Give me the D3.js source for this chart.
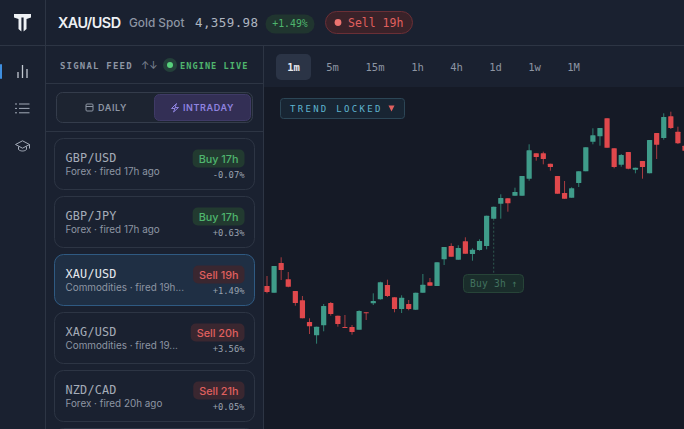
<!DOCTYPE html>
<html>
<head>
<meta charset="utf-8">
<title>XAU/USD</title>
<script src="https://d3js.org/d3.v7.min.js"></script>
<style>
html,body{margin:0;padding:0;background:#1a2130;overflow:hidden;}
svg{display:block;}
.sans{font-family:Inter,"Noto Sans",sans-serif;}
.mono{font-family:"DejaVu Sans Mono",monospace;}
</style>
</head>
<body>
<script>
var opens  = [4214,4207.3,4237,4220.7,4209,4199.7,4178,4164.7,4174.7,4197,4184.3,4173,4173,4170.3,4187.7,4196.7,4200.7,4215,4202.7,4191,4196,4190.3,4207.3,4217.7,4214,4240.7,4254,4240.3,4258.7,4246,4250,4254,4281.3,4296.3,4301.7,4304.3,4304.3,4321.3,4346.7,4346.7,4336.3,4324,4307,4302.3,4317,4328.7,4358.3,4363.7,4381.7,4351.7,4335.3,4348,4330.3,4339,4326.7,4367,4362,4383.7,4368.3,4354.3];
var highs  = [4224,4234,4242.7,4228,4209,4204,4181.7,4173.3,4196,4198,4184.3,4185,4175,4189.7,4187.7,4206.7,4218.3,4220.3,4202.7,4204.7,4200,4207.3,4226,4222,4237.7,4253,4256.7,4254.7,4262.7,4251.7,4260.7,4284.3,4293.3,4305.7,4301.7,4312.3,4324,4355.7,4346.7,4348.3,4336.3,4324,4319,4312.7,4328.7,4352.7,4371.7,4372,4381.7,4351.7,4346,4348,4332.3,4339,4360,4367,4386.7,4388.3,4373.3,4354.3];
var lows   = [4206.7,4207.3,4220,4212.7,4194.3,4181.7,4166,4156.3,4168.7,4184.3,4173.3,4172.3,4165.3,4170.3,4180,4195,4200.3,4203,4187.7,4187,4189.7,4190,4207.3,4214.3,4214,4235,4243.3,4240.3,4246.3,4239.3,4249.3,4250.7,4281.3,4281.3,4288.3,4304.3,4304.3,4319.3,4339.3,4335.7,4329.3,4306.3,4301.3,4302.3,4313,4328.7,4355.7,4354.3,4352.3,4331.7,4333.3,4330.7,4326.7,4321.3,4326.7,4341,4360.3,4371,4356,4349.3];
var closes = [4208,4234,4230,4213.3,4197,4181.7,4173.7,4173.3,4194,4186,4176,4172.3,4168,4189,4186.7,4199,4217.7,4204,4191,4202.3,4191,4207.3,4215.3,4214.3,4237.7,4253,4243.3,4252,4246.3,4250.3,4259,4284.3,4293.3,4302,4296.7,4308,4324,4349.7,4343,4341,4333,4306.3,4301.3,4311.7,4328.7,4352.7,4364.7,4372,4352.3,4333,4345,4331.3,4332.3,4333,4360,4355.3,4383,4372,4356.7,4349.3];

var timeframes = ['1m','5m','15m','1h','4h','1d','1w','1M'];
var pairs   = ['GBP/USD','GBP/JPY','XAU/USD','XAG/USD','NZD/CAD'];
var details = ['Forex · fired 17h ago','Forex · fired 17h ago','Commodities · fired 19h...','Commodities · fired 19...','Forex · fired 20h ago'];
var signals = ['Buy 17h','Buy 17h','Sell 19h','Sell 20h','Sell 21h'];
var changes = ['-0.07%','+0.63%','+1.49%','+3.56%','+0.05%'];

var W = 684, H = 429;
var svg = d3.select('body').append('svg').attr('width', W).attr('height', H);

function rect(g, x, y, w, h, r, fill, stroke){
	return g.append('rect').attr('x',x).attr('y',y).attr('width',w).attr('height',h).attr('rx',r)
		.attr('fill',fill).attr('stroke',stroke || 'none');
}
function label(g, x, y, s, size, fill, cls, anchor, weight, spacing){
	return g.append('text').attr('x',x).attr('y',y).text(s).attr('class',cls)
		.attr('font-size',size).attr('fill',fill).attr('text-anchor',anchor || 'start')
		.attr('font-weight',weight || 400).attr('letter-spacing',spacing || 0);
}

// panels
rect(svg,0,0,W,H,0,'#1a2130');
rect(svg,264,87,W-264,H-87,0,'#151a26');
var lineColor = '#2d3544';
[[45.5,0,45.5,H],[263.5,46,263.5,H],[0,45.5,W,45.5],[46,83.5,263,83.5],[46,131.5,263,131.5]].forEach(function(l){
	svg.append('line').attr('x1',l[0]).attr('y1',l[1]).attr('x2',l[2]).attr('y2',l[3]).attr('stroke',lineColor);
});

// logo
svg.append('path').attr('d','M14 14H31V17.5L26.5 19V29L23.6 31.5V17.5H21.4V31.5L18.5 29V19L14 17.5Z').attr('fill','#eef1f5');

// rail icons
rect(svg,0,64,2,15,1,'#3f8fe0');
var rail = svg.append('g').attr('fill','none').attr('stroke','#a3abb8').attr('stroke-width',1);
[[18,78,72],[22.5,78,65],[27,78,69]].forEach(function(b){
	rail.append('line').attr('x1',b[0]).attr('y1',b[1]).attr('x2',b[0]).attr('y2',b[2]).attr('stroke-width',1.3).attr('stroke','#c2c8d1');
});
[104,108.4,112.8].forEach(function(yy){
	rail.append('line').attr('x1',19).attr('y1',yy).attr('x2',29.5).attr('y2',yy);
	rail.append('line').attr('x1',15).attr('y1',yy).attr('x2',17).attr('y2',yy);
});
rail.append('path').attr('d','M15.5 144.5L22.5 140.8L29.5 144.5L22.5 148.2ZM18.5 146.5V149.5C20.5 151.5 24.5 151.5 26.5 149.5V146.5M29.5 144.5V148.5');

// header
label(svg,58,28,'XAU/USD',14.4,'#eef1f5','sans','start',600,-0.5);
label(svg,129,27,'Gold Spot',11.8,'#8d95a3','sans','start',500);
label(svg,195,27,'4,359.98',12.5,'#aeb5c0','mono','start',400,0.4);
rect(svg,265.5,14.5,49,19,9.5,'#20352f');
label(svg,290,27,'+1.49%',9.8,'#4fb56e','mono','middle');
rect(svg,325.5,11.5,87,22,11,'#3a2229','#6a2f36');
svg.append('circle').attr('cx',338).attr('cy',22.5).attr('r',3.4).attr('fill','#ee7470');
label(svg,348,27,'Sell 19h',11.5,'#e0605f','mono','start');

// signal feed head
label(svg,60,69,'SIGNAL FEED',9,'#8d95a3','mono','start',700,1.2);
label(svg,141,69,'↑↓',10,'#7d8593','sans','start');
svg.append('circle').attr('cx',170).attr('cy',65).attr('r',7).attr('fill','#24403a');
svg.append('circle').attr('cx',170).attr('cy',65).attr('r',3).attr('fill','#58cf7c');
label(svg,180,69,'ENGINE LIVE',8.6,'#4fb56e','mono','start',700,1.05);

// daily / intraday
rect(svg,56.5,92.5,196,30,6,'#1d2431','#343c4b');
rect(svg,154.5,94.5,96,26,5,'#332f55','#3f3a66');
var cal = svg.append('g').attr('fill','none').attr('stroke','#8d95a3').attr('stroke-width',1);
cal.append('rect').attr('x',86).attr('y',104).attr('width',7).attr('height',7).attr('rx',1);
cal.append('line').attr('x1',86).attr('y1',106.5).attr('x2',93).attr('y2',106.5);
label(svg,98,111,'DAILY',9,'#8d95a3','sans','start',600,0.6);
svg.append('path').attr('d','M176.5 103.5L171.5 108.5H175L173.5 112L178.5 107.5H175Z').attr('fill','none').attr('stroke','#8f83e0');
label(svg,183,111,'INTRADAY',9,'#8f83e0','sans','start',600,0.6);

// cards
var cardY = d3.scaleLinear().domain([0,1]).range([138.5,196.5]);
pairs.forEach(function(p,i){
	var cy = cardY(i), active = i === 2;
	var buy = signals[i].indexOf('Buy') === 0;
	var g = svg.append('g').attr('transform','translate(54.5,'+cy+')');
	rect(g,0,0,200,51,9, active ? '#1f2f44' : '#1a2130', active ? '#2f5a82' : '#2d3544');
	label(g,11,23,p,11.8,active ? '#e6e9ee' : '#a5acb8','mono','start',500,0.2);
	label(g,11,36.5,details[i],9.9,'#8d95a3','sans','start');
	var pill = rect(g,0,11,0,18,5, buy ? '#223a30' : '#3a2730');
	var t = label(g,184,24,signals[i],10.8, buy ? '#4fb56e' : '#e0605f','sans','end',500);
	var w = t.node().getComputedTextLength() + 12;
	pill.attr('x',190-w).attr('width',w);
	label(g,190,39,changes[i],8.8,'#9aa2af','mono','end');
});
rect(svg,54.5,428.5,200,30,9,'#1a2130','#2d3544');

// timeframes, button width follows label length
var tfLeft = 276;
rect(svg,276,54,35,26,5,'#2b3446');
timeframes.forEach(function(t,i){
	var w = 21 + (t.length - 2) * 7 + 14;
	label(svg,tfLeft + w/2,71,t,10.5,i === 0 ? '#e6e9ee' : '#8d95a3','mono','middle',i === 0 ? 600 : 400);
	tfLeft += w + 4;
});

// candles
var x = d3.scaleLinear().domain([0,59]).range([267,685]);
var y = d3.scaleLinear().domain([4071,4400]).range([429,100]);
var up = '#3f9c8a', down = '#e0484c';
var idx = d3.range(opens.length);

var chart = svg.append('g');
// buy marker stem
chart.append('line').attr('x1',x(32)).attr('x2',x(32)).attr('y1',y(opens[32])).attr('y2',275)
	.attr('stroke','#2f5a50').attr('stroke-dasharray','2,2');

chart.selectAll('line.wick').data(idx).enter().append('line').attr('class','wick')
	.attr('x1',function(i){return x(i);}).attr('x2',function(i){return x(i);})
	.attr('y1',function(i){return y(highs[i]);}).attr('y2',function(i){return y(lows[i]);})
	.attr('stroke',function(i){return closes[i] >= opens[i] ? '#2f7f70' : '#a83c40';})
	.attr('stroke-width',1);
chart.selectAll('rect.body').data(idx).enter().append('rect').attr('class','body')
	.attr('x',function(i){return x(i)-2.6;}).attr('width',5.2)
	.attr('y',function(i){return y(Math.max(opens[i],closes[i]));})
	.attr('height',function(i){return Math.max(1,Math.abs(y(opens[i])-y(closes[i])));})
	.attr('rx',0.5)
	.attr('fill',function(i){return closes[i] >= opens[i] ? up : down;});

// chart tags
rect(svg,280.5,98.5,124,20,3,'#182533','#2c4656');
label(svg,290,112,'TREND LOCKED',9,'#5fb4cf','mono','start',500,2.3);
svg.append('path').attr('d','M388.5 105.5H394.5L391.5 111.5Z').attr('fill','#e0605f');
rect(svg,463.5,274.5,60,18,4,'#1a2d2b','#274438');
label(svg,470,287,'Buy 3h ↑',9.6,'#41715f','mono','start',400,0.2);
</script>
</body>
</html>
